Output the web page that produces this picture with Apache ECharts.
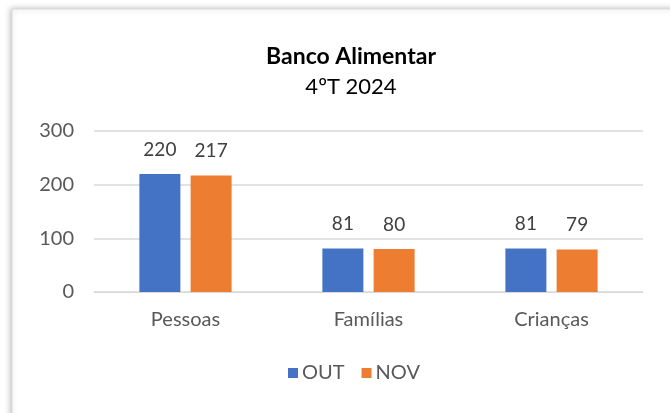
<!DOCTYPE html>
<html>
<head>
<meta charset="utf-8">
<script src="https://cdn.jsdelivr.net/npm/echarts@6/dist/echarts.min.js"></script>
<style>
	html, body { margin: 0; padding: 0; background: #fff; }
	#chart { width: 670px; height: 413px; }
</style>
</head>
<body>
<div id="chart"></div>
<script>
// dados do gráfico
var categorias = ['Pessoas', 'Famílias', 'Crianças'];
var valoresOut = [220, 81, 81];
var valoresNov = [217, 80, 79];
var nomesSeries = ['OUT', 'NOV'];

var fonte = 'Lato, "Open Sans", sans-serif';
var myChart = echarts.init(document.getElementById('chart'));

var option = {
	backgroundColor: '#fff',
	animation: false,
	graphic: [{
		type: 'rect',
		z: -10,
		shape: { x: 12, y: 9, width: 700, height: 420 },
		style: {
			fill: '#fff',
			stroke: '#d9d9d9',
			lineWidth: 1,
			shadowBlur: 6,
			shadowColor: 'rgba(0,0,0,0.25)',
			shadowOffsetX: -1,
			shadowOffsetY: 0
		}
	}],
	title: [{
		text: 'Banco Alimentar',
		left: 346,
		textAlign: 'center',
		top: 40,
		textStyle: { fontFamily: fonte, fontSize: 23, fontWeight: 'bold', color: '#000' }
	}, {
		text: '4ºT 2024',
		left: 346,
		textAlign: 'center',
		top: 71,
		textStyle: { fontFamily: fonte, fontSize: 22, fontWeight: 'normal', color: '#000' }
	}],
	legend: {
		data: nomesSeries,
		bottom: 25,
		left: 283,
		itemWidth: 10,
		itemHeight: 10,
		itemGap: 17,
		icon: 'rect',
		textStyle: { fontFamily: fonte, fontSize: 20, color: '#595959', padding: [0, 0, 0, -1] }
	},
	grid: {
		left: 94,
		right: 27,
		top: 131,
		bottom: 121
	},
	xAxis: {
		type: 'category',
		data: categorias,
		axisLine: { lineStyle: { color: '#d9d9d9' } },
		axisTick: { show: false },
		axisLabel: { fontFamily: fonte, fontSize: 20, color: '#595959', margin: 18 }
	},
	yAxis: {
		type: 'value',
		min: 0,
		max: 300,
		interval: 100,
		axisLine: { show: false },
		axisTick: { show: false },
		splitLine: { lineStyle: { color: '#d9d9d9', width: 1.5 } },
		axisLabel: { fontFamily: fonte, fontSize: 20, color: '#595959', margin: 20 }
	},
	series: [{
		name: nomesSeries[0],
		type: 'bar',
		data: valoresOut,
		barWidth: 41,
		barGap: '25%',
		itemStyle: { color: '#4472c4' },
		label: { show: true, position: 'top', distance: 15, fontFamily: fonte, fontSize: 19, color: '#404040' }
	}, {
		name: nomesSeries[1],
		type: 'bar',
		data: valoresNov,
		barWidth: 41,
		barGap: '25%',
		itemStyle: { color: '#ed7d31' },
		label: { show: true, position: 'top', distance: 15, fontFamily: fonte, fontSize: 19, color: '#404040' }
	}]
};
myChart.setOption(option);
</script>
</body>
</html>
